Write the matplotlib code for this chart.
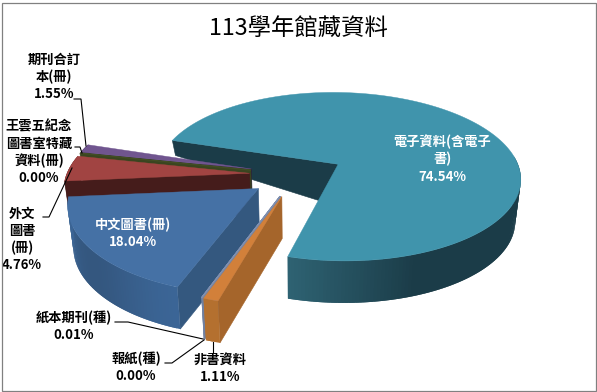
import numpy as np
import matplotlib
matplotlib.use("Agg")
import matplotlib.pyplot as plt
from matplotlib.patches import Polygon, Rectangle
from matplotlib.colors import to_rgb

plt.rcParams['font.family'] = ['Noto Sans CJK TC', 'DejaVu Sans']

title = "113學年館藏資料"
categories = ["中文圖書(冊)", "外文圖書(冊)", "王雲五紀念圖書室特藏資料(冊)", "期刊合訂本(冊)",
              "電子資料(含電子書)", "非書資料", "報紙(種)", "紙本期刊(種)"]
values = [18.04, 4.76, 0.00, 1.55, 74.54, 1.11, 0.00, 0.01]
wrapped = ["中文圖書(冊)", "外文\n圖書\n(冊)", "王雲五紀念\n圖書室特藏\n資料(冊)", "期刊合訂\n本(冊)",
           "電子資料(含電子\n書)", "非書資料", "報紙(種)", "紙本期刊(種)"]
top_colors = ["#4571A5", "#A14442", "#434F24", "#70558F", "#4094AC", "#D2803A", "#8090B0", "#8090B0"]
wall_dark = ["#34577F", "#451C1B", "#3A4520", "#3A2A50", "#1B3C48", "#A5652B", "#7080A0", "#7080A0"]
wall_light = ["#3B6596", "#451C1B", "#3A4520", "#3A2A50", "#2E6272", "#B4702F", "#7080A0", "#7080A0"]
cut_colors = ["#34587F", "#451C1B", "#3A4520", "#2A1F3C", "#1B3C48", "#A5652B", "#7080A0", "#7080A0"]

# pie geometry, pixels
FIRST = 199.9
CX, CY, RX, RY = 297.0, 174.6, 183.0, 85.5
K = 0.15
EXPLODE = 0.26
DEPTH = 42.0
SHRINK = 0.975
draw_order = [4, 3, 2, 1, 0, 7, 6, 5]
start_rim_depth = {4: 15.0}
wall_skip = {4: 0.10}

fig = plt.figure(figsize=(5.97, 3.92), dpi=100)
ax = fig.add_axes([0, 0, 1, 1])
ax.set_xlim(0, 597)
ax.set_ylim(392, 0)
ax.axis('off')


def project(x, y):
    p = 1.0 / (1.0 + K * y)
    return np.column_stack([CX + RX * x * p, CY - RY * y * p])


def drop(pts, depth=DEPTH):
    out = np.array(pts, dtype=float)
    out[:, 0] = CX + (out[:, 0] - CX) * SHRINK
    out[:, 1] = out[:, 1] + depth
    return out


def mix(a, b, t):
    a, b = np.array(to_rgb(a)), np.array(to_rgb(b))
    return tuple(a + (b - a) * t)


def shade(i, th):
    th = th % 360
    if i == 4:
        return mix(wall_dark[i], wall_light[i], np.clip((th - 160) / 35, 0, 1))
    if i == 0:
        return mix(wall_dark[i], wall_light[i], 0.5 + 0.5 * np.cos(np.radians((th - 199) * 5.5)))
    return mix(wall_dark[i], wall_light[i], 1.0)


def draw_slice(i, a0, a1):
    mid = np.radians((a0 + a1) / 2)
    ox, oy = EXPLODE * np.sin(mid), EXPLODE * np.cos(mid)
    n = max(int((a1 - a0) / 1.0), 3)
    th = np.linspace(a0, a1, n)
    t = np.radians(th)
    rim = project(ox + np.sin(t), oy + np.cos(t))
    apex = project(np.array([ox]), np.array([oy]))
    # cut face at the slice's clockwise-start edge
    rim_depth = start_rim_depth.get(i, DEPTH)
    a_low = drop(apex)
    r_low = drop(rim[:1], rim_depth)
    ax.add_patch(Polygon(np.vstack([apex, rim[:1], r_low, a_low]), closed=True,
                         fc=cut_colors[i], ec=cut_colors[i], lw=0.4, zorder=1))
    # outer wall, split so the shade follows the arc; each piece overlaps the next
    low = drop(rim)
    limit = wall_skip.get(i, 0.42)
    for j in range(n - 1):
        if np.cos((t[j] + t[j + 1]) / 2) > limit:
            continue
        c = shade(i, (th[j] + th[j + 1]) / 2)
        k = min(j + 2, n - 1)
        ax.add_patch(Polygon(np.vstack([rim[j:k + 1], low[j:k + 1][::-1]]), closed=True,
                             fc=c, ec='none', lw=0, zorder=1))
    # top face
    thin = a1 - a0 < 0.5
    ax.add_patch(Polygon(np.vstack([apex, rim]), closed=True, fc=top_colors[i],
                         ec=top_colors[i], lw=1.0 if thin else 0.3, zorder=1))


angles = np.cumsum([0.0] + values) / sum(values) * 360.0 + FIRST
for i in draw_order:
    draw_slice(i, angles[i], angles[i + 1])

# titles and labels
ax.text(298.5, 28, title, ha='center', va='center', fontsize=16.8, fontweight='medium', color='black', zorder=5)

FS = 9.5
LS = 1.28
labels = [
    (0, 133, 233.5, 'white'),
    (1, 22, 239.5, 'black'),
    (2, 39, 152.5, 'black'),
    (3, 54, 77, 'black'),
    (4, 442, 159, 'white'),
    (5, 220, 368.5, 'black'),
    (6, 136, 367.5, 'black'),
    (7, 74, 326.5, 'black'),
]
for i, x, y, col in labels:
    ax.text(x, y, f"{wrapped[i]}\n{values[i]:.2f}%", ha='center', va='center', fontsize=FS,
            fontweight='bold', color=col, linespacing=LS, zorder=5)

leaders = [
    ([74, 81, 86], [99, 99, 146]),
    ([75, 80, 82], [147, 147, 153]),
    ([43, 49, 72], [217, 217, 168]),
    ([115, 128, 203], [322, 322, 339]),
    ([165, 172, 204], [363, 363, 340]),
    ([213, 213], [342, 353]),
]
for xs, ys in leaders:
    ax.plot(xs, ys, color='black', lw=0.8, zorder=4, solid_joinstyle='miter')

ax.add_patch(Rectangle((1.5, 2.5), 594, 388.5, fc='none', ec='#808080', lw=0.9, zorder=6))

fig.savefig('out.png', dpi=100, facecolor='white')
